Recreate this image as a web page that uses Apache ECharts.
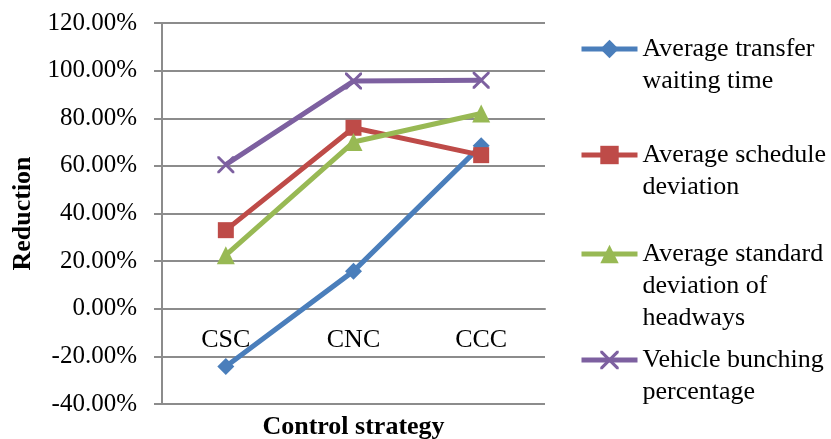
<!DOCTYPE html>
<html>
<head>
<meta charset="utf-8">
<script src="https://cdn.jsdelivr.net/npm/echarts@6/dist/echarts.min.js"></script>
<style>
  html, body { margin: 0; padding: 0; background: #fff; }
  #chart { width: 831px; height: 439px; }
</style>
</head>
<body>
<div id="chart"></div>
<script>
// Control strategies on the category axis
const strategies = ['CSC', 'CNC', 'CCC'];

// Reduction (%) per strategy for each performance measure
const transferWaiting = [-24.3, 15.8, 68.5];
const scheduleDeviation = [33.0, 76.0, 64.5];
const headwayStdDev = [22.5, 70.0, 82.0];
const bunchingPercentage = [60.5, 95.6, 96.0];

// Value axis range and step
const yMin = -40;
const yMax = 120;
const yStep = 20;

const seriesNames = [
  'Average transfer\nwaiting time',
  'Average schedule\ndeviation',
  'Average standard\ndeviation of\nheadways',
  'Vehicle bunching\npercentage'
];

const FONT = 'Liberation Serif';
const GRID_GRAY = '#8c8c8c';
const crossSymbol = 'path://M0,0 L1.2,0 L5,3.8 L8.8,0 L10,0 L10,1.2 L6.2,5 L10,8.8 L10,10 L8.8,10 L5,6.2 L1.2,10 L0,10 L0,8.8 L3.8,5 L0,1.2 Z';

const colors = ['#4a7ebb', '#be4b48', '#98b954', '#7d60a0'];
const symbols = ['diamond', 'rect', 'triangle', crossSymbol];
const symbolSizes = [17, 16, 18, 17];
const values = [transferWaiting, scheduleDeviation, headwayStdDev, bunchingPercentage];

// plot area
const GRID = { left: 162, right: 286, top: 23, bottom: 35 };
const CHART_H = 439;

const LINE_H = 32;
// legend blocks: top edge of each
const legendTops = [1, 107, 174, 312];

function makeLegend(i) {
  const lines = seriesNames[i].split('\n').length;
  // leading blank lines keep the marker level with the first text line
  const lead = '\n'.repeat(lines - 1);
  return {
    data: [seriesNames[i]],
    orient: 'vertical',
    left: 579,
    top: legendTops[i],
    padding: 0,
    itemWidth: 56,
    itemHeight: 23,
    itemGap: 0,
    selectedMode: false,
    lineStyle: { width: 5 },
    formatter: name => lead + name,
    textStyle: {
      fontFamily: FONT,
      fontSize: 26,
      color: '#000',
      lineHeight: LINE_H
    }
  };
}

// the category axis sits on the value-axis zero line
const plotH = CHART_H - GRID.top - GRID.bottom;
const zeroLift = (0 - yMin) / (yMax - yMin) * plotH;

const chart = echarts.init(document.getElementById('chart'), null, { renderer: 'canvas' });

chart.setOption({
  animation: false,
  backgroundColor: '#fff',
  textStyle: { fontFamily: FONT, color: '#000' },
  grid: Object.assign({ containLabel: false, outerBoundsMode: 'none' }, GRID),
  legend: [0, 1, 2, 3].map(makeLegend),
  xAxis: {
    type: 'category',
    data: strategies,
    boundaryGap: true,
    position: 'bottom',
    offset: -zeroLift,
    axisLine: { show: true, onZero: false, lineStyle: { color: GRID_GRAY, width: 2 } },
    axisTick: { show: false },
    axisLabel: { margin: 18, fontFamily: FONT, fontSize: 26, color: '#000' },
    splitLine: { show: false },
    name: 'Control strategy',
    nameLocation: 'middle',
    nameGap: 106,
    nameTextStyle: { fontFamily: FONT, fontSize: 26, fontWeight: 'bold', color: '#000' }
  },
  yAxis: {
    type: 'value',
    min: yMin,
    max: yMax,
    interval: yStep,
    axisLine: { show: true, onZero: false, lineStyle: { color: GRID_GRAY, width: 2 } },
    axisTick: { show: true, inside: false, length: 8, lineStyle: { color: GRID_GRAY, width: 2 } },
    axisLabel: {
      margin: 25,
      fontFamily: FONT,
      fontSize: 25,
      color: '#000',
      formatter: v => v.toFixed(2) + '%'
    },
    splitLine: { show: true, lineStyle: { color: GRID_GRAY, width: 2 } },
    name: 'Reduction',
    nameLocation: 'middle',
    nameGap: 126,
    nameRotate: 90,
    nameTextStyle: { fontFamily: FONT, fontSize: 26, fontWeight: 'bold', color: '#000' }
  },
  series: values.map((data, i) => ({
    name: seriesNames[i],
    type: 'line',
    data: data,
    symbol: symbols[i],
    symbolSize: symbolSizes[i],
    showAllSymbol: true,
    lineStyle: { color: colors[i], width: 5 },
    itemStyle: { color: colors[i] },
    z: 2 + i
  }))
});
</script>
</body>
</html>
